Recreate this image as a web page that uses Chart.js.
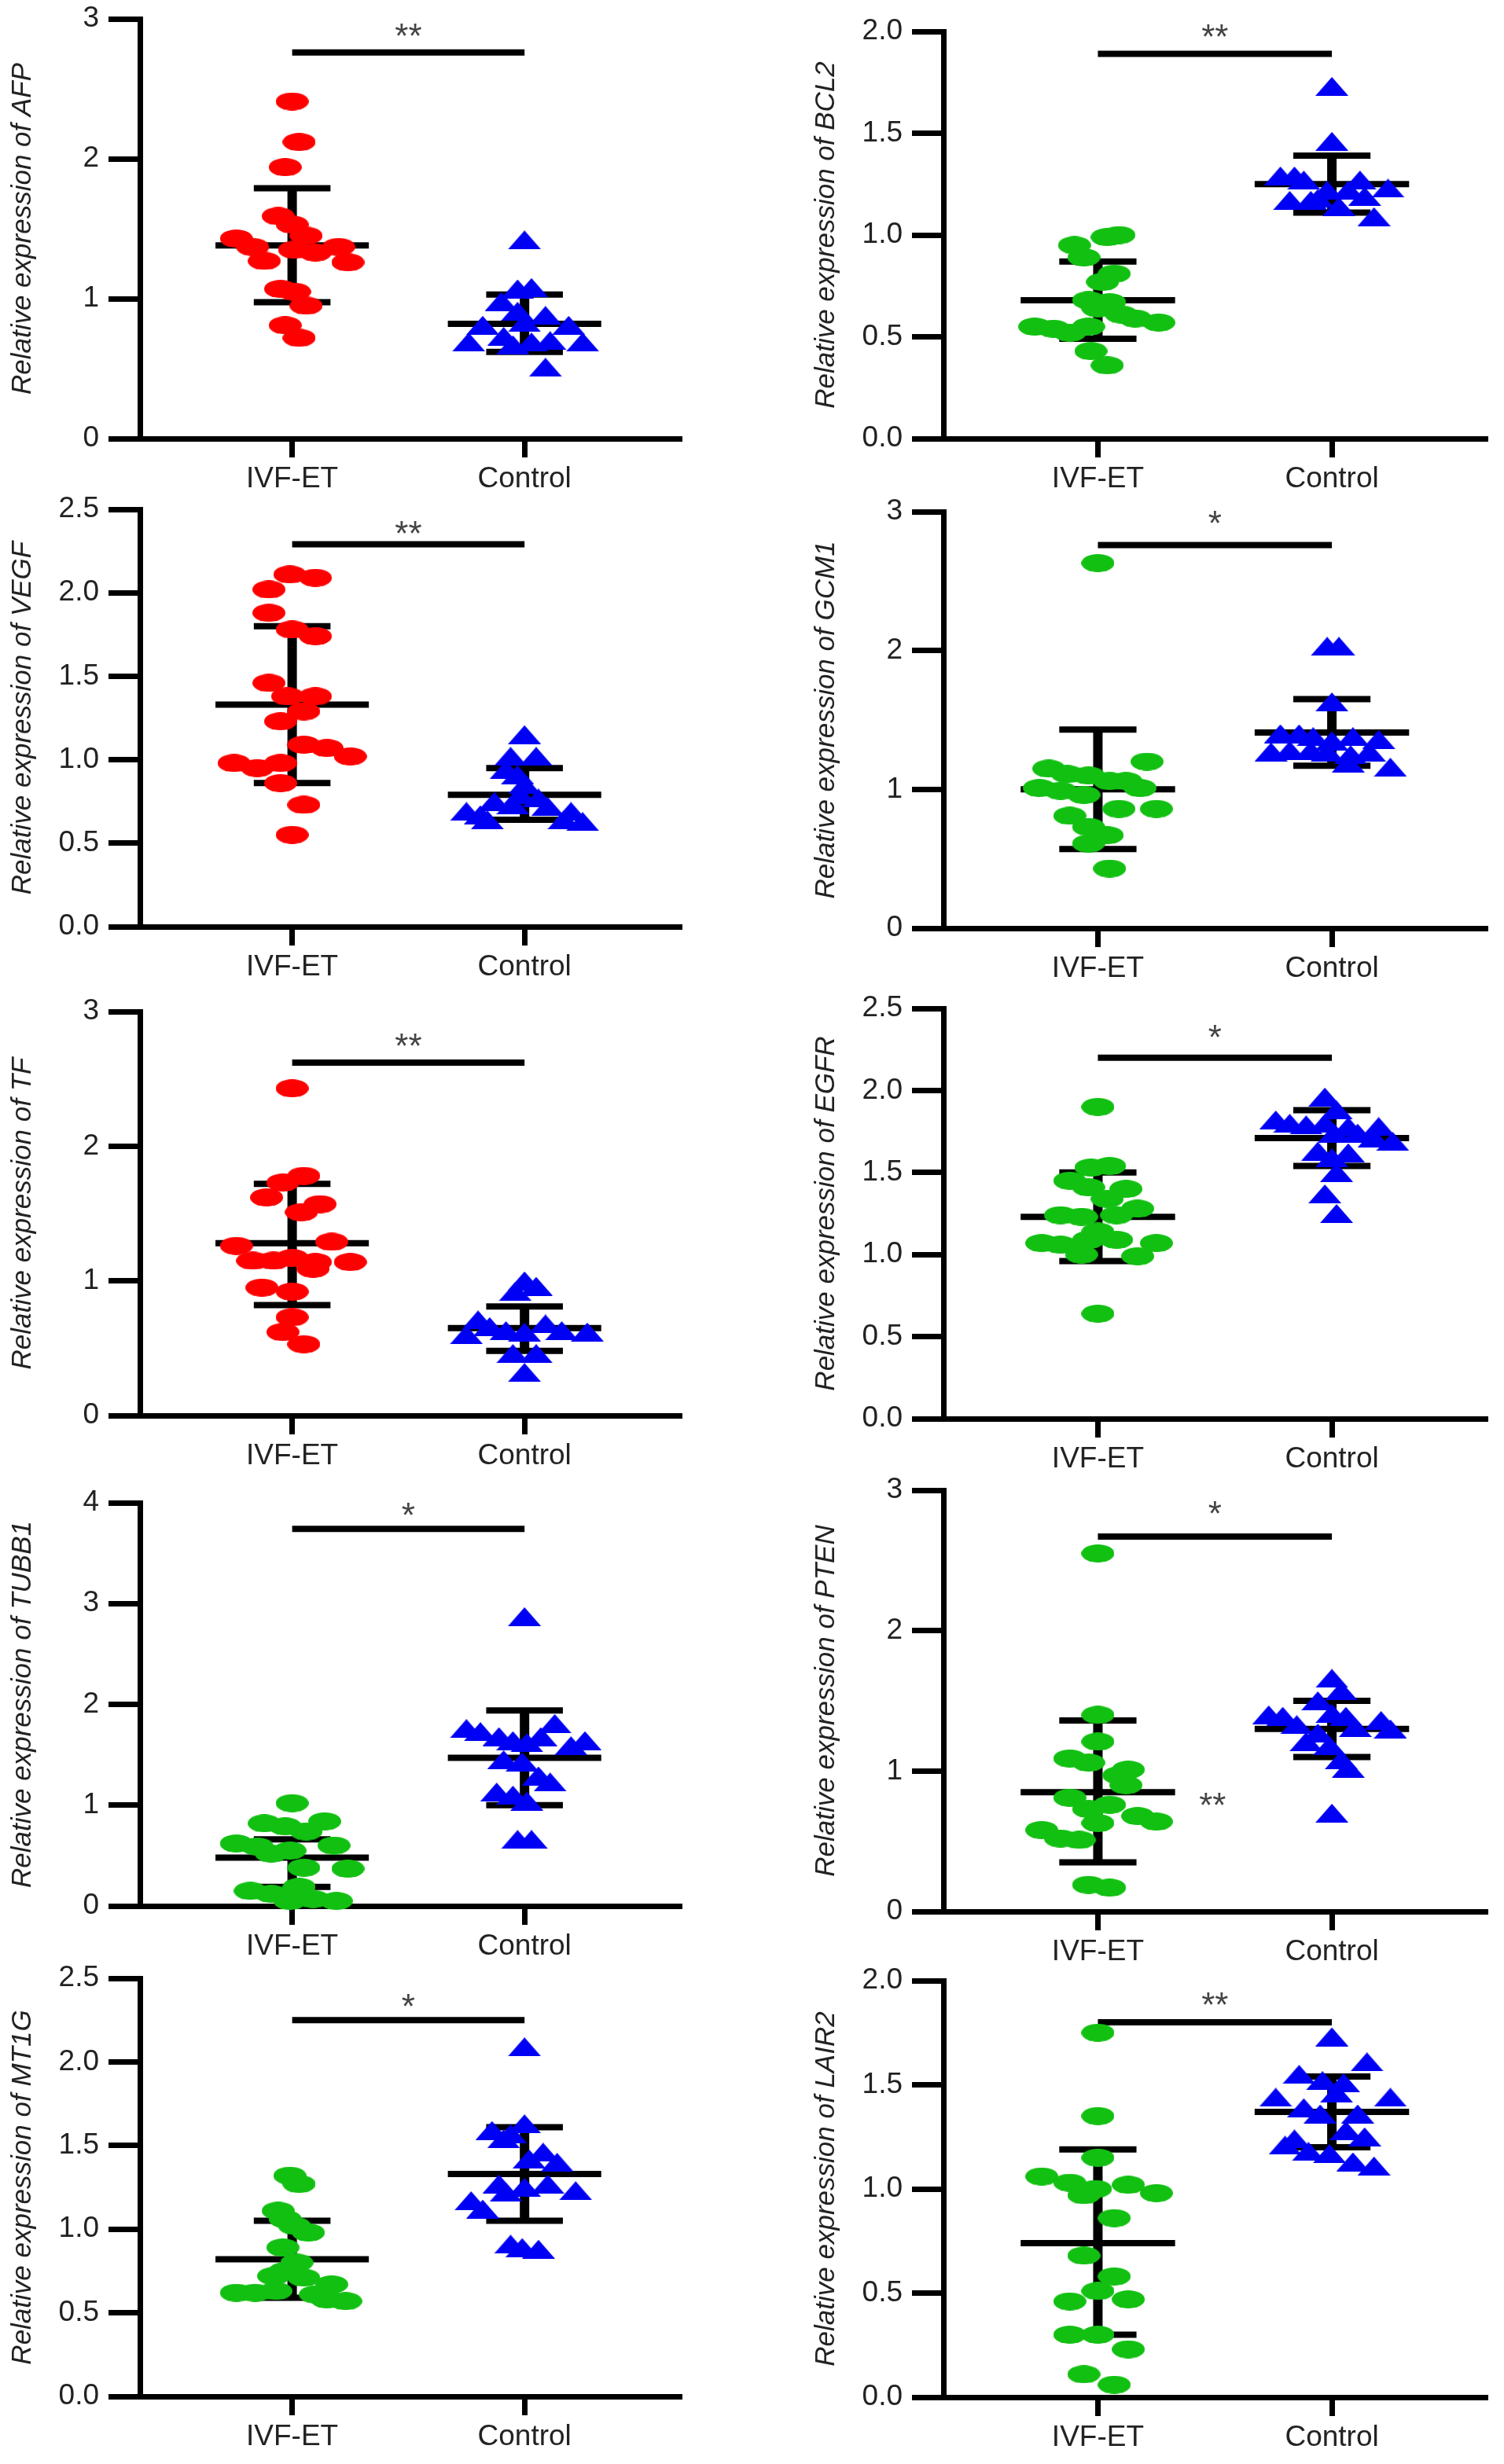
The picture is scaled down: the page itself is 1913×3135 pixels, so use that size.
<!DOCTYPE html>
<html>
<head>
<meta charset="utf-8">
<script src="https://cdn.jsdelivr.net/npm/chart.js@4.4.1/dist/chart.umd.min.js"></script>
<style>
html, body { margin: 0; padding: 0; background: #fff; width: 1913px; height: 3135px; overflow: hidden; position: relative; }
canvas { position: absolute; }
</style>
</head>
<body>
<script>
const categories = ['IVF-ET', 'Control'];

// AFP
const afpIvf  = [2.41, 2.12, 1.94, 1.59, 1.53, 1.45, 1.43, 1.37, 1.37, 1.35, 1.33, 1.27, 1.26, 1.07, 1.05, 0.95, 0.81, 0.72];
const afpIvfX = [0.00, 0.03, -0.03, -0.06, 0.00, 0.06, -0.24, -0.17, 0.20, 0.01, 0.10, -0.12, 0.24, -0.05, 0.01, 0.06, -0.03, 0.03];
const afpCtl  = [1.42, 1.07, 1.08, 0.98, 0.91, 0.88, 0.81, 0.83, 0.81, 0.69, 0.73, 0.69, 0.70, 0.69, 0.67, 0.51];
const afpCtlX = [0.00, -0.03, 0.03, -0.10, -0.03, 0.09, -0.18, 0.00, 0.19, -0.24, -0.09, 0.03, 0.11, 0.25, -0.05, 0.09];
const afpMean = [1.38, 0.82], afpSdHigh = [1.79, 1.03], afpSdLow = [0.975, 0.62];
const afpSig = ['**', 2.76, 2.93];
const afpAxis = [3, 1, 0];

// BCL2
const bcl2Ivf  = [1.00, 0.99, 0.95, 0.89, 0.81, 0.77, 0.68, 0.67, 0.64, 0.61, 0.59, 0.57, 0.55, 0.54, 0.52, 0.55, 0.43, 0.36];
const bcl2IvfX = [0.09, 0.04, -0.10, -0.06, 0.07, 0.02, -0.04, 0.05, 0.00, 0.10, 0.16, 0.26, -0.27, -0.19, -0.12, -0.04, -0.03, 0.04];
const bcl2Ctl  = [1.73, 1.46, 1.29, 1.29, 1.27, 1.27, 1.23, 1.22, 1.22, 1.17, 1.17, 1.19, 1.14, 1.09, 1.18];
const bcl2CtlX = [0.00, 0.00, -0.22, -0.16, -0.12, 0.12, 0.24, -0.02, 0.07, -0.18, -0.09, 0.14, 0.03, 0.18, -0.06];
const bcl2Mean = [0.68, 1.25], bcl2SdHigh = [0.87, 1.39], bcl2SdLow = [0.49, 1.11];
const bcl2Sig = ['**', 1.89, 2.01];
const bcl2Axis = [2, 0.5, 1];

// VEGF
const vegfIvf  = [2.11, 2.09, 2.02, 1.88, 1.78, 1.74, 1.46, 1.38, 1.38, 1.29, 1.23, 1.09, 1.07, 0.98, 0.98, 0.95, 1.02, 0.86, 0.73, 0.55];
const vegfIvfX = [-0.01, 0.10, -0.10, -0.10, 0.00, 0.10, -0.10, -0.02, 0.10, 0.05, -0.05, 0.05, 0.15, -0.25, -0.05, -0.15, 0.25, -0.05, 0.05, 0.00];
const vegfCtl  = [1.15, 1.02, 1.02, 0.94, 0.91, 0.85, 0.79, 0.77, 0.75, 0.73, 0.72, 0.69, 0.67, 0.69, 0.64, 0.64, 0.63];
const vegfCtlX = [0.00, -0.06, 0.05, -0.08, -0.03, 0.00, -0.02, 0.06, -0.13, -0.05, 0.10, -0.25, -0.19, 0.20, -0.16, 0.17, 0.25];
const vegfMean = [1.33, 0.79], vegfSdHigh = [1.80, 0.95], vegfSdLow = [0.86, 0.64];
const vegfSig = ['**', 2.29, 2.40];
const vegfAxis = [2.5, 0.5, 1];

// GCM1
const gcm1Ivf  = [2.63, 1.20, 1.15, 1.11, 1.10, 1.06, 1.06, 1.01, 0.99, 0.96, 1.01, 0.86, 0.86, 0.81, 0.73, 0.67, 0.61, 0.43];
const gcm1IvfX = [0.00, 0.21, -0.21, -0.13, -0.04, 0.05, 0.12, -0.25, -0.16, -0.06, 0.18, 0.09, 0.25, -0.12, -0.04, 0.04, -0.04, 0.05];
const gcm1Ctl  = [2.03, 2.03, 1.63, 1.40, 1.40, 1.38, 1.38, 1.36, 1.35, 1.27, 1.28, 1.28, 1.25, 1.27, 1.19, 1.16, 1.27];
const gcm1CtlX = [-0.02, 0.03, 0.00, -0.22, -0.14, -0.08, 0.09, 0.20, 0.00, -0.26, -0.18, -0.09, 0.08, 0.16, 0.07, 0.25, -0.02];
const gcm1Mean = [1.00, 1.41], gcm1SdHigh = [1.43, 1.65], gcm1SdLow = [0.57, 1.17];
const gcm1Sig = ['*', 2.76, 2.97];
const gcm1Axis = [3, 1, 0];

// TF
const tfIvf  = [2.43, 1.78, 1.73, 1.62, 1.57, 1.51, 1.26, 1.29, 1.15, 1.15, 1.17, 1.14, 1.14, 1.09, 0.95, 0.92, 0.73, 0.62, 0.53];
const tfIvfX = [0.00, 0.05, -0.04, -0.11, 0.12, 0.04, -0.24, 0.17, -0.17, -0.08, 0.00, 0.10, 0.25, 0.09, -0.13, 0.00, 0.00, -0.04, 0.05];
const tfCtl  = [1.00, 0.96, 0.92, 0.71, 0.60, 0.66, 0.63, 0.62, 0.68, 0.63, 0.62, 0.46, 0.46, 0.32];
const tfCtlX = [0.00, 0.05, -0.04, -0.20, -0.25, -0.15, -0.08, 0.00, 0.09, 0.16, 0.27, -0.05, 0.05, 0.00];
const tfMean = [1.28, 0.65], tfSdHigh = [1.72, 0.81], tfSdLow = [0.82, 0.48];
const tfSig = ['**', 2.62, 2.80];
const tfAxis = [3, 1, 0];

// EGFR
const egfrIvf  = [1.90, 1.53, 1.54, 1.45, 1.41, 1.40, 1.34, 1.28, 1.24, 1.23, 1.24, 1.14, 1.07, 1.06, 1.09, 1.09, 1.07, 1.00, 0.99, 0.64];
const egfrIvfX = [0.00, -0.03, 0.05, -0.12, -0.04, 0.12, 0.04, 0.17, -0.16, -0.07, 0.08, 0.00, -0.24, -0.16, -0.04, 0.08, 0.25, -0.07, 0.17, 0.00];
const egfrCtl  = [1.96, 1.88, 1.82, 1.80, 1.79, 1.80, 1.78, 1.78, 1.74, 1.74, 1.71, 1.69, 1.63, 1.62, 1.59, 1.50, 1.37, 1.25];
const egfrCtlX = [-0.03, 0.02, -0.24, -0.18, -0.11, -0.03, 0.07, 0.20, 0.01, 0.11, 0.18, 0.26, -0.06, 0.07, 0.00, 0.02, -0.03, 0.02];
const egfrMean = [1.23, 1.71], egfrSdHigh = [1.50, 1.88], egfrSdLow = [0.96, 1.54];
const egfrSig = ['*', 2.20, 2.37];
const egfrAxis = [2.5, 0.5, 1];

// TUBB1
const tubb1Ivf  = [1.02, 0.82, 0.84, 0.79, 0.74, 0.62, 0.59, 0.55, 0.60, 0.52, 0.38, 0.37, 0.19, 0.15, 0.12, 0.05, 0.07, 0.05];
const tubb1IvfX = [0.00, -0.12, 0.14, -0.03, 0.06, -0.24, -0.15, -0.01, 0.18, -0.09, 0.05, 0.24, 0.03, -0.18, -0.09, -0.01, 0.09, 0.19];
const tubb1Ctl  = [2.87, 1.81, 1.76, 1.73, 1.68, 1.64, 1.62, 1.68, 1.64, 1.59, 1.45, 1.43, 1.29, 1.23, 1.13, 1.10, 1.04, 0.66, 0.66];
const tubb1CtlX = [0.00, 0.13, -0.25, -0.19, -0.11, -0.05, 0.01, 0.07, 0.26, 0.20, -0.09, -0.01, 0.06, 0.11, -0.12, -0.05, 0.01, -0.03, 0.03];
const tubb1Mean = [0.48, 1.47], tubb1SdHigh = [0.66, 1.94], tubb1SdLow = [0.19, 1.00];
const tubb1Sig = ['*', 3.74, 3.95];
const tubb1Axis = [4, 1, 0];

// PTEN
const ptenIvf  = [2.55, 1.40, 1.21, 1.09, 1.06, 1.01, 0.97, 0.90, 0.81, 0.76, 0.73, 0.68, 0.64, 0.63, 0.58, 0.52, 0.51, 0.19, 0.17];
const ptenIvfX = [0.00, 0.00, 0.00, -0.12, -0.04, 0.13, 0.09, 0.12, -0.12, 0.05, -0.04, 0.17, 0.25, 0.00, -0.24, -0.16, -0.08, -0.04, 0.05];
const ptenCtl  = [1.66, 1.57, 1.50, 1.40, 1.39, 1.41, 1.39, 1.36, 1.33, 1.31, 1.30, 1.27, 1.21, 1.18, 1.08, 1.02, 0.70];
const ptenCtlX = [0.00, 0.04, -0.06, -0.27, -0.21, 0.00, 0.06, 0.21, -0.15, 0.10, 0.25, -0.06, -0.11, -0.01, 0.04, 0.07, 0.00];
const ptenMean = [0.85, 1.30], ptenSdHigh = [1.36, 1.50], ptenSdLow = [0.35, 1.10];
const ptenSig = ['*', 2.67, 2.89];
const ptenExtra = ['**', 0.49, 0.81];
const ptenAxis = [3, 1, 0];

// MT1G
const mt1gIvf  = [1.32, 1.27, 1.11, 1.06, 1.02, 0.98, 0.89, 0.80, 0.75, 0.72, 0.71, 0.67, 0.62, 0.62, 0.63, 0.61, 0.57, 0.58];
const mt1gIvfX = [-0.01, 0.03, -0.06, -0.03, 0.01, 0.07, -0.04, 0.02, -0.03, -0.08, 0.05, 0.17, -0.24, -0.16, -0.07, 0.10, 0.23, 0.15];
const mt1gCtl  = [2.09, 1.63, 1.59, 1.57, 1.54, 1.46, 1.40, 1.42, 1.27, 1.27, 1.25, 1.23, 1.22, 1.17, 1.12, 0.91, 0.89, 0.88];
const mt1gCtlX = [0.00, 0.00, -0.14, -0.06, -0.09, 0.08, 0.14, 0.02, -0.11, 0.10, 0.00, 0.22, -0.08, -0.23, -0.18, -0.06, -0.01, 0.06];
const mt1gMean = [0.82, 1.33], mt1gSdHigh = [1.05, 1.61], mt1gSdLow = [0.59, 1.05];
const mt1gSig = ['*', 2.25, 2.38];
const mt1gAxis = [2.5, 0.5, 1];

// LAIR2
const lair2Ivf  = [1.75, 1.35, 1.15, 1.06, 1.03, 1.02, 1.00, 0.98, 0.97, 0.86, 0.68, 0.58, 0.51, 0.46, 0.47, 0.30, 0.30, 0.23, 0.11, 0.06];
const lair2IvfX = [0.00, 0.00, 0.00, -0.24, -0.12, 0.13, -0.01, 0.25, -0.06, 0.07, -0.06, 0.07, 0.00, -0.12, 0.13, -0.12, 0.00, 0.13, -0.06, 0.07];
const lair2Ctl  = [1.73, 1.61, 1.55, 1.52, 1.51, 1.44, 1.44, 1.46, 1.39, 1.36, 1.36, 1.28, 1.24, 1.25, 1.21, 1.18, 1.17, 1.13, 1.11];
const lair2CtlX = [0.00, 0.15, -0.14, -0.04, 0.05, -0.24, 0.25, 0.02, -0.12, -0.05, 0.11, 0.06, -0.16, 0.14, -0.20, -0.10, -0.01, 0.09, 0.18];
const lair2Mean = [0.74, 1.37], lair2SdHigh = [1.19, 1.54], lair2SdLow = [0.30, 1.20];
const lair2Sig = ['**', 1.80, 1.92];
const lair2Axis = [2, 0.5, 1];

const RED = 'rgb(255,0,0)', GREEN = 'rgb(18,192,18)', BLUE = 'rgb(0,0,245)';
const TICK_FONT = "'Liberation Sans Narrow', 'Liberation Sans', Arial, sans-serif";
const TITLE_FONT = "'Liberation Sans', Arial, sans-serif";

const panels = [
	{ gene: 'AFP', ivf: afpIvf, ivfX: afpIvfX, ctl: afpCtl, ctlX: afpCtlX, mean: afpMean, hi: afpSdHigh, lo: afpSdLow, sig: afpSig, axis: afpAxis, color: RED },
	{ gene: 'BCL2', ivf: bcl2Ivf, ivfX: bcl2IvfX, ctl: bcl2Ctl, ctlX: bcl2CtlX, mean: bcl2Mean, hi: bcl2SdHigh, lo: bcl2SdLow, sig: bcl2Sig, axis: bcl2Axis, color: GREEN },
	{ gene: 'VEGF', ivf: vegfIvf, ivfX: vegfIvfX, ctl: vegfCtl, ctlX: vegfCtlX, mean: vegfMean, hi: vegfSdHigh, lo: vegfSdLow, sig: vegfSig, axis: vegfAxis, color: RED },
	{ gene: 'GCM1', ivf: gcm1Ivf, ivfX: gcm1IvfX, ctl: gcm1Ctl, ctlX: gcm1CtlX, mean: gcm1Mean, hi: gcm1SdHigh, lo: gcm1SdLow, sig: gcm1Sig, axis: gcm1Axis, color: GREEN },
	{ gene: 'TF', ivf: tfIvf, ivfX: tfIvfX, ctl: tfCtl, ctlX: tfCtlX, mean: tfMean, hi: tfSdHigh, lo: tfSdLow, sig: tfSig, axis: tfAxis, color: RED },
	{ gene: 'EGFR', ivf: egfrIvf, ivfX: egfrIvfX, ctl: egfrCtl, ctlX: egfrCtlX, mean: egfrMean, hi: egfrSdHigh, lo: egfrSdLow, sig: egfrSig, axis: egfrAxis, color: GREEN },
	{ gene: 'TUBB1', ivf: tubb1Ivf, ivfX: tubb1IvfX, ctl: tubb1Ctl, ctlX: tubb1CtlX, mean: tubb1Mean, hi: tubb1SdHigh, lo: tubb1SdLow, sig: tubb1Sig, axis: tubb1Axis, color: GREEN },
	{ gene: 'PTEN', ivf: ptenIvf, ivfX: ptenIvfX, ctl: ptenCtl, ctlX: ptenCtlX, mean: ptenMean, hi: ptenSdHigh, lo: ptenSdLow, sig: ptenSig, extra: ptenExtra, axis: ptenAxis, color: GREEN },
	{ gene: 'MT1G', ivf: mt1gIvf, ivfX: mt1gIvfX, ctl: mt1gCtl, ctlX: mt1gCtlX, mean: mt1gMean, hi: mt1gSdHigh, lo: mt1gSdLow, sig: mt1gSig, axis: mt1gAxis, color: GREEN },
	{ gene: 'LAIR2', ivf: lair2Ivf, ivfX: lair2IvfX, ctl: lair2Ctl, ctlX: lair2CtlX, mean: lair2Mean, hi: lair2SdHigh, lo: lair2SdLow, sig: lair2Sig, axis: lair2Axis, color: GREEN }
];

// where each plot area sits on the page (chart top = axis max, bottom = zero line)
const boxes = [
	[0, 24, 558], [1022, 40, 558],
	[0, 648, 1179], [1022, 651, 1181],
	[0, 1287, 1801], [1022, 1283, 1805],
	[0, 1912, 2425], [1022, 1896, 2432],
	[0, 2517, 3049], [1022, 2520, 3050]
];

function marker(shape, color, w, h) {
	const c = document.createElement('canvas');
	c.width = w; c.height = h;
	const g = c.getContext('2d');
	g.fillStyle = color;
	g.beginPath();
	if (shape === 'ellipse') g.ellipse(w / 2, h / 2, w / 2, h / 2, 0, 0, Math.PI * 2);
	else { g.moveTo(w / 2, 0); g.lineTo(w, h); g.lineTo(0, h); g.closePath(); }
	g.fill();
	return c;
}

const triangle = marker('tri', BLUE, 42, 24);
const ellipses = { [RED]: marker('ellipse', RED, 42, 23), [GREEN]: marker('ellipse', GREEN, 42, 23) };

function points(vals, offs, base) {
	return vals.map((v, i) => ({ x: base + offs[i], y: v }));
}

// mean line and the two SD caps
function barLines(mean, hi, lo) {
	const d = [];
	[0, 1].forEach(c => {
		d.push({ x: c - 0.33, y: mean[c] }, { x: c + 0.33, y: mean[c] }, { x: c, y: null });
		d.push({ x: c - 0.165, y: hi[c] }, { x: c + 0.165, y: hi[c] }, { x: c, y: null });
		d.push({ x: c - 0.165, y: lo[c] }, { x: c + 0.165, y: lo[c] }, { x: c, y: null });
	});
	return d;
}

// vertical SD stems
function barStems(hi, lo) {
	return [{ x: 0, y: lo[0] }, { x: 0, y: hi[0] }, { x: 0.5, y: null }, { x: 1, y: lo[1] }, { x: 1, y: hi[1] }];
}

const starPlugin = {
	id: 'stars',
	afterDatasetsDraw(chart, args, opts) {
		const ctx = chart.ctx, xs = chart.scales.x, ys = chart.scales.y;
		ctx.save();
		ctx.fillStyle = '#444';
		ctx.font = '44px ' + TITLE_FONT;
		ctx.textAlign = 'center';
		ctx.textBaseline = 'alphabetic';
		opts.marks.forEach(m => ctx.fillText(m[0], xs.getPixelForValue(m[1]), ys.getPixelForValue(m[2]) + 25));
		ctx.restore();
	}
};

panels.forEach((p, i) => {

	const [left, top, bottom] = boxes[i];
	const cv = document.createElement('canvas');
	cv.width = i % 2 === 0 ? 880 : 883;
	cv.height = bottom - top + 40 + 90;
	cv.style.left = left + 'px';
	cv.style.top = (top - 40) + 'px';
	document.body.appendChild(cv);

	const marks = [[p.sig[0], 0.5, p.sig[2]]];
	if (p.extra) marks.push(p.extra);

	new Chart(cv, {
		type: 'scatter',
		data: {
			datasets: [{
				data: points(p.ivf, p.ivfX, 0),
				pointStyle: ellipses[p.color],
				pointRadius: 12,
				order: 0,
				clip: false
			}, {
				data: points(p.ctl, p.ctlX, 1),
				pointStyle: triangle,
				pointRadius: 12,
				order: 0,
				clip: false
			}, {
				data: barLines(p.mean, p.hi, p.lo),
				showLine: true,
				spanGaps: false,
				pointRadius: 0,
				borderColor: '#000',
				borderWidth: 8,
				order: 1,
				clip: false
			}, {
				data: barStems(p.hi, p.lo),
				showLine: true,
				spanGaps: false,
				pointRadius: 0,
				borderColor: '#000',
				borderWidth: 12,
				order: 1,
				clip: false
			}, {
				data: [{ x: 0, y: p.sig[1] }, { x: 1, y: p.sig[1] }],
				showLine: true,
				pointRadius: 0,
				borderColor: '#000',
				borderWidth: 8,
				order: 1,
				clip: false
			}]
		},
		options: {
			animation: false,
			responsive: false,
			events: [],
			layout: { padding: { top: 40, right: 12, bottom: 0, left: 0 } },
			plugins: {
				legend: { display: false },
				tooltip: { enabled: false },
				stars: { marks: marks }
			},
			scales: {
				x: {
					type: 'linear',
					min: i % 2 === 0 ? -0.655 : -0.66,
					max: i % 2 === 0 ? 1.676 : 1.665,
					afterBuildTicks: s => { s.ticks = [{ value: 0 }, { value: 1 }]; },
					afterFit: s => { s.height = 90; },
					ticks: {
						callback: v => categories[v],
						font: { family: TICK_FONT, size: 37 },
						color: '#222',
						padding: 6,
						maxRotation: 0,
						minRotation: 0,
						autoSkip: false
					},
					grid: { drawOnChartArea: false, drawTicks: true, tickLength: 24, tickWidth: 7, tickColor: '#000' },
					border: { display: true, width: 7, color: '#000' }
				},
				y: {
					min: 0,
					max: p.axis[0],
					afterFit: s => { s.width = 178; },
					ticks: {
						stepSize: p.axis[1],
						callback: v => v.toFixed(p.axis[2]),
						font: { family: TICK_FONT, size: 37 },
						color: '#222',
						padding: 12
					},
					grid: { drawOnChartArea: false, drawTicks: true, tickLength: 40, tickWidth: 7, tickColor: '#000' },
					border: { display: true, width: 7, color: '#000' },
					title: {
						display: true,
						text: 'Relative expression of ' + p.gene,
						font: { family: TITLE_FONT, size: 35, style: 'italic' },
						color: '#222',
						padding: { top: 8, bottom: 0 }
					}
				}
			}
		},
		plugins: [starPlugin]
	});

});
</script>
</body>
</html>
